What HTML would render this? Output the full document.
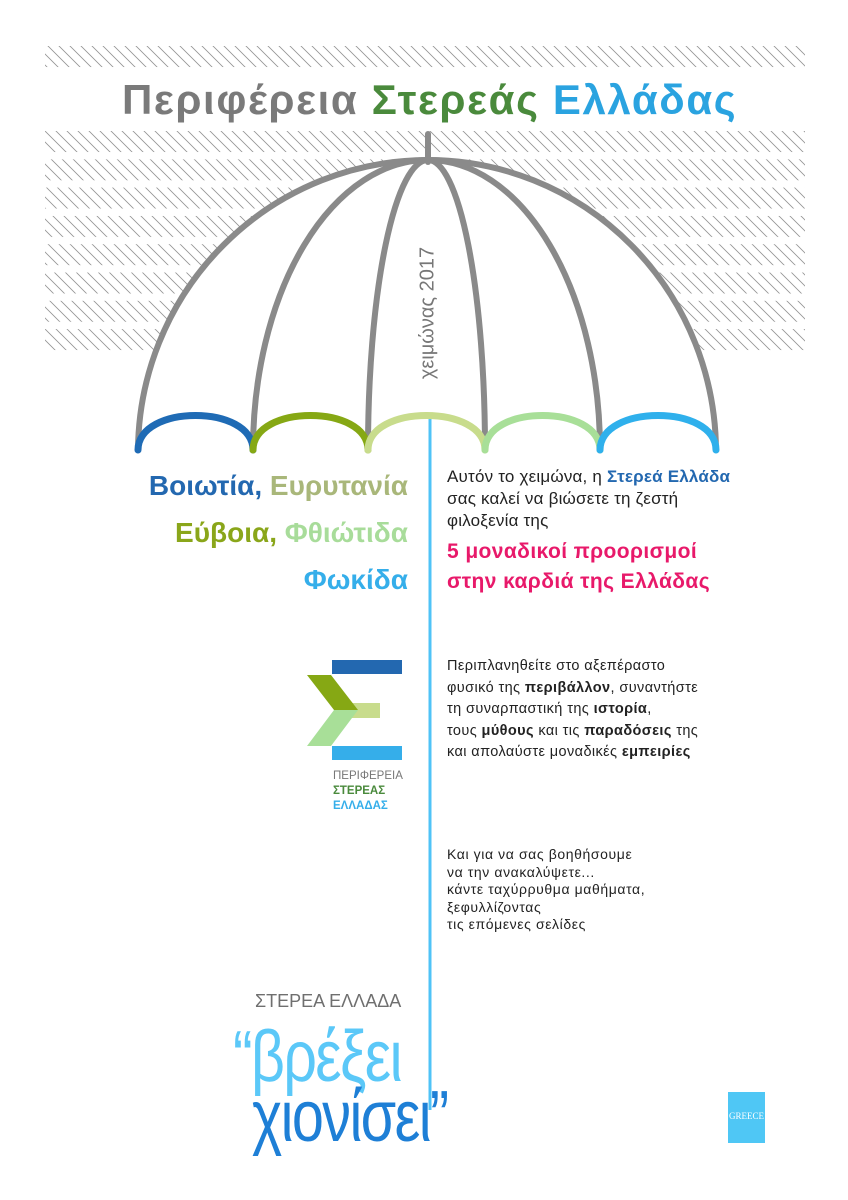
<!DOCTYPE html>
<html><head><meta charset="utf-8"><style>
body{margin:0;background:#fff;}
#w{position:relative;width:848px;height:1200px;overflow:hidden;font-family:"Liberation Sans","DejaVu Sans",sans-serif;}
.a{position:absolute;white-space:nowrap;}
b{font-weight:bold;}
</style></head><body><div id="w">
<svg width="848" height="1200" style="position:absolute;left:0;top:0">
<defs>
<pattern id="h1" patternUnits="userSpaceOnUse" x="0" y="46" width="11" height="28.3" patternTransform="skewX(45)">
<line x1="2" y1="0" x2="2" y2="21" stroke="#8a8a8a" stroke-width="1.1"/></pattern>
<pattern id="h2" patternUnits="userSpaceOnUse" x="0" y="131" width="11" height="28.3" patternTransform="skewX(45)">
<line x1="2" y1="0" x2="2" y2="21" stroke="#8a8a8a" stroke-width="1.1"/></pattern>
</defs>
<rect x="45" y="46" width="760" height="22" fill="url(#h1)"/>
<rect x="10" y="131" width="795" height="222" fill="url(#h2)"/>
<rect x="0" y="0" width="45" height="400" fill="#fff"/>
<path d="M138,452 A290,292 0 0 1 428,160 A288,292 0 0 1 716,452 Z" fill="#fff"/>
<g fill="none" stroke="#8a8a8a" stroke-width="6" stroke-linecap="round">
<line x1="428" y1="134" x2="428" y2="162"/>
<path d="M138,450 A290,292 0 0 1 428,160 A288,292 0 0 1 716,450"/>
<path d="M253,450 A175,290 0 0 1 428,160"/>
<path d="M368,450 A60,290 0 0 1 428,160"/>
<path d="M485,450 A57,290 0 0 0 428,160"/>
<path d="M600,450 A172,290 0 0 0 428,160"/>
</g>
<line x1="430" y1="418" x2="430" y2="1110" stroke="#4fc3f7" stroke-width="3"/>
<g fill="none" stroke-width="7" stroke-linecap="round">
<path d="M138,450 C138,404 253,404 253,450" stroke="#1f6bb5"/>
<path d="M253,450 C253,404 368,404 368,450" stroke="#86a814"/>
<path d="M368,450 C368,404 485,404 485,450" stroke="#c8dc8c"/>
<path d="M485,450 C485,404 600,404 600,450" stroke="#a8df98"/>
<path d="M600,450 C600,404 716,404 716,450" stroke="#2fb0ec"/>
</g>
<rect x="332" y="660" width="70" height="14" fill="#2368b0"/>
<rect x="332" y="746" width="70" height="14" fill="#35aeea"/>
<rect x="345" y="703" width="35" height="15" fill="#c8dc8c"/>
<polygon points="307,675 331,675 358,710 334,710" fill="#86a814"/>
<polygon points="334,710 358,710 331,746 307,746" fill="#a8df98"/>
<rect x="728" y="1092" width="37" height="51" fill="#4fc7f5"/>
</svg>
<div class="a" style="left:122px;top:76px;font-size:42px;font-weight:bold;color:#7a7a7a;letter-spacing:1.6px">Περιφέρεια <span style="color:#4a8a3c">Στερεάς</span> <span style="color:#2aa3e0">Ελλάδας</span></div>
<div class="a" style="left:428px;top:313px;font-size:20px;color:#777;transform:translate(-50%,-50%) rotate(-90deg)">χειμώνας 2017</div>
<div class="a" style="right:440px;top:462px;font-size:28px;font-weight:bold;text-align:right;line-height:47px">
<span style="color:#2368b0">Βοιωτία,</span> <span style="color:#a9b77a">Ευρυτανία</span><br>
<span style="color:#8aa61a">Εύβοια,</span> <span style="color:#a8dc9a">Φθιώτιδα</span><br>
<span style="color:#35aeea">Φωκίδα</span></div>
<div class="a" style="left:447px;top:466px;font-size:17px;line-height:22px;color:#222;letter-spacing:0.2px">Αυτόν το χειμώνα, η <b style="color:#2368b0">Στερεά Ελλάδα</b><br>σας καλεί να βιώσετε τη ζεστή<br>φιλοξενία της</div>
<div class="a" style="left:447px;top:537px;font-size:21px;line-height:30px;font-weight:bold;color:#e8196a;letter-spacing:0.4px">5 μοναδικοί προορισμοί<br>στην καρδιά της Ελλάδας</div>
<div class="a" style="left:447px;top:656px;font-size:14.5px;line-height:21.5px;color:#222;letter-spacing:0.4px">Περιπλανηθείτε στο αξεπέραστο<br>φυσικό της <b>περιβάλλον</b>, συναντήστε<br>τη συναρπαστική της <b>ιστορία</b>,<br>τους <b>μύθους</b> και τις <b>παραδόσεις</b> της<br>και απολαύστε μοναδικές <b>εμπειρίες</b></div>
<div class="a" style="left:333px;top:769px;font-size:11.5px;line-height:15px;color:#777">ΠΕΡΙΦΕΡΕΙΑ<br><b style="color:#4a8a3c">ΣΤΕΡΕΑΣ</b><br><b style="color:#35aeea">ΕΛΛΑΔΑΣ</b></div>
<div class="a" style="left:447px;top:846px;font-size:14px;line-height:17.5px;color:#222;letter-spacing:0.6px">Και για να σας βοηθήσουμε<br>να την ανακαλύψετε...<br>κάντε ταχύρρυθμα μαθήματα,<br>ξεφυλλίζοντας<br>τις επόμενες σελίδες</div>
<div class="a" style="left:255px;top:991px;font-size:18px;color:#6f6f6f">ΣΤΕΡΕΑ ΕΛΛΑΔΑ</div>
<div class="a" style="left:233px;top:1016px;font-size:72px;color:#5bc8f8;letter-spacing:-2px;transform:scaleX(0.82);transform-origin:0 0">“βρέξει</div>
<div class="a" style="left:252px;top:1076px;font-size:72px;color:#1e7fd6;letter-spacing:-2px;transform:scaleX(0.8);transform-origin:0 0">χιονίσει”</div>
<div class="a" style="left:729px;top:1111px;font-size:9px;color:#fff;font-family:'Liberation Serif',serif;">GREECE</div>
</div></body></html>
